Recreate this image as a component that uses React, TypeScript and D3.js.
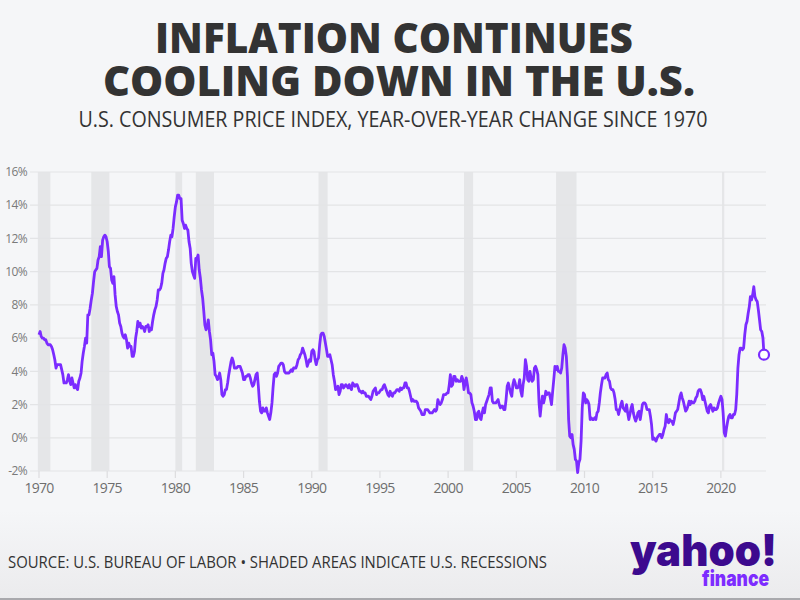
import { FC, useEffect, useRef } from "react";
import * as d3 from "d3";

// monthly CPI-U, % change vs same month a year earlier
const cpi1970s = [
  6.2, 6.4, 6.1, 6.0, 6.0, 5.9, 5.9, 5.7, 5.6, 5.6, 5.6, 5.5,
  5.3, 5.0, 4.7, 4.2, 4.4, 4.4, 4.4, 4.4, 4.1, 3.8, 3.3, 3.3,
  3.3, 3.5, 3.8, 3.4, 3.2, 3.6, 3.3, 3.0, 3.2, 3.0, 2.9, 3.4,
  3.6, 3.9, 4.6, 5.1, 5.5, 6.0, 5.7, 7.4, 7.4, 7.8, 8.3, 8.7,
  9.4, 10.0, 10.1, 10.2, 10.7, 10.9, 11.5, 10.9, 11.9, 12.1, 12.2, 12.1,
  11.8, 11.2, 10.3, 10.2, 9.5, 9.3, 9.7, 8.6, 7.9, 7.6, 7.4, 6.9,
  6.7, 6.3, 6.1, 6.0, 6.2, 5.9, 5.4, 5.7, 5.5, 5.5, 4.9, 4.9,
  5.2, 6.0, 6.4, 7.0, 6.7, 6.9, 6.6, 6.7, 6.6, 6.4, 6.7, 6.7,
  6.8, 6.4, 6.6, 6.5, 7.0, 7.4, 7.7, 7.9, 8.3, 8.9, 8.9, 9.0,
  9.3, 9.9, 10.1, 10.5, 10.8, 10.9, 11.3, 11.8, 12.2, 12.1, 12.6, 13.3,
];
const cpi1980s = [
  13.9, 14.2, 14.6, 14.6, 14.4, 14.4, 13.1, 12.9, 12.6, 12.8, 12.6, 12.5,
  11.8, 11.4, 10.5, 10.0, 9.8, 9.6, 10.8, 10.8, 11.0, 10.1, 9.6, 8.9,
  8.4, 7.6, 6.8, 6.5, 6.7, 7.1, 6.4, 5.9, 5.0, 5.1, 4.6, 3.8,
  3.7, 3.5, 3.6, 3.9, 3.5, 2.6, 2.5, 2.6, 2.9, 2.9, 3.3, 3.8,
  4.2, 4.6, 4.8, 4.6, 4.2, 4.2, 4.2, 4.3, 4.3, 4.3, 4.1, 3.9,
  3.5, 3.5, 3.7, 3.7, 3.8, 3.8, 3.6, 3.3, 3.1, 3.2, 3.5, 3.8,
  3.9, 3.1, 2.2, 1.6, 1.5, 1.8, 1.6, 1.6, 1.8, 1.5, 1.3, 1.1,
  1.5, 2.1, 3.0, 3.8, 3.9, 3.7, 3.9, 4.3, 4.4, 4.5, 4.5, 4.4,
  4.0, 3.9, 3.9, 3.9, 3.9, 4.0, 4.1, 4.0, 4.2, 4.2, 4.2, 4.4,
  4.7, 4.8, 5.0, 5.1, 5.4, 5.2, 5.0, 4.7, 4.3, 4.5, 4.7, 4.6,
];
const cpi1990s = [
  5.2, 5.3, 5.2, 4.7, 4.4, 4.7, 4.8, 5.6, 6.2, 6.3, 6.3, 6.1,
  5.7, 5.3, 4.9, 4.9, 5.0, 4.7, 4.4, 3.8, 3.4, 2.9, 3.0, 3.1,
  2.6, 2.8, 3.2, 3.2, 3.0, 3.1, 3.2, 3.1, 3.0, 3.2, 3.0, 2.9,
  3.3, 3.2, 3.1, 3.2, 3.2, 3.0, 2.8, 2.8, 2.7, 2.8, 2.7, 2.7,
  2.5, 2.5, 2.5, 2.4, 2.3, 2.5, 2.8, 2.9, 3.0, 2.6, 2.7, 2.7,
  2.8, 2.9, 2.9, 3.1, 3.2, 3.0, 2.8, 2.6, 2.5, 2.8, 2.6, 2.5,
  2.7, 2.7, 2.8, 2.9, 2.9, 2.8, 3.0, 2.9, 3.0, 3.0, 3.3, 3.3,
  3.0, 3.0, 2.8, 2.5, 2.2, 2.3, 2.2, 2.2, 2.2, 2.1, 1.8, 1.7,
  1.6, 1.4, 1.4, 1.4, 1.7, 1.7, 1.7, 1.6, 1.5, 1.5, 1.5, 1.6,
  1.7, 1.6, 1.7, 2.3, 2.1, 2.0, 2.1, 2.3, 2.6, 2.6, 2.6, 2.7,
];
const cpi2000s = [
  2.7, 3.2, 3.8, 3.1, 3.2, 3.7, 3.7, 3.4, 3.5, 3.4, 3.4, 3.4,
  3.7, 3.5, 2.9, 3.3, 3.6, 3.2, 2.7, 2.7, 2.6, 2.1, 1.9, 1.6,
  1.1, 1.1, 1.5, 1.6, 1.2, 1.1, 1.5, 1.8, 1.5, 2.0, 2.2, 2.4,
  2.6, 3.0, 3.0, 2.2, 2.1, 2.1, 2.1, 2.2, 2.3, 2.0, 1.8, 1.9,
  1.9, 1.7, 1.7, 2.3, 3.1, 3.3, 3.0, 2.7, 2.5, 3.2, 3.5, 3.3,
  3.0, 3.0, 3.1, 3.5, 2.8, 2.5, 3.2, 3.6, 4.7, 4.3, 3.5, 3.4,
  4.0, 3.6, 3.4, 3.5, 4.2, 4.3, 4.1, 3.8, 2.1, 1.3, 2.0, 2.5,
  2.1, 2.4, 2.8, 2.6, 2.7, 2.7, 2.4, 2.0, 2.8, 3.5, 4.3, 4.1,
  4.3, 4.0, 4.0, 3.9, 4.2, 5.0, 5.6, 5.4, 4.9, 3.7, 1.1, 0.1,
  0.0, 0.2, -0.4, -0.7, -1.3, -1.4, -2.1, -1.5, -1.3, -0.2, 1.8, 2.7,
];
const cpi2010s = [
  2.6, 2.1, 2.3, 2.2, 2.0, 1.1, 1.2, 1.1, 1.1, 1.2, 1.1, 1.5,
  1.6, 2.1, 2.7, 3.2, 3.6, 3.6, 3.6, 3.8, 3.9, 3.5, 3.4, 3.0,
  2.9, 2.9, 2.7, 2.3, 1.7, 1.7, 1.4, 1.7, 2.0, 2.2, 1.8, 1.7,
  1.6, 2.0, 1.5, 1.1, 1.4, 1.8, 2.0, 1.5, 1.2, 1.0, 1.2, 1.5,
  1.6, 1.1, 1.5, 2.0, 2.1, 2.1, 2.0, 1.7, 1.7, 1.7, 1.3, 0.8,
  -0.1, 0.0, -0.1, -0.2, 0.0, 0.1, 0.2, 0.2, 0.0, 0.2, 0.5, 0.7,
  1.4, 1.0, 0.9, 1.1, 1.0, 1.0, 0.8, 1.1, 1.5, 1.6, 1.7, 2.1,
  2.5, 2.7, 2.4, 2.2, 1.9, 1.6, 1.7, 1.9, 2.2, 2.0, 2.2, 2.1,
  2.1, 2.2, 2.4, 2.5, 2.8, 2.9, 2.9, 2.7, 2.3, 2.5, 2.2, 1.9,
  1.6, 1.5, 1.9, 2.0, 1.8, 1.6, 1.8, 1.7, 1.7, 1.8, 2.1, 2.3,
];
const cpi2020s = [
  2.5, 2.3, 1.5, 0.3, 0.1, 0.6, 1.0, 1.3, 1.4, 1.2, 1.2, 1.4,
  1.4, 1.7, 2.6, 4.2, 5.0, 5.4, 5.4, 5.3, 5.4, 6.2, 6.8, 7.0,
  7.5, 7.9, 8.5, 8.3, 8.6, 9.1, 8.5, 8.3, 8.2, 7.7, 7.1, 6.5,
  6.4, 6.0, 5.0,
];

// NBER recessions, [start, end] as "year-month"
const recessions = [
  ["1969-12", "1970-11"],
  ["1973-11", "1975-03"],
  ["1980-01", "1980-07"],
  ["1981-07", "1982-11"],
  ["1990-07", "1991-03"],
  ["2001-03", "2001-11"],
  ["2007-12", "2009-06"],
  ["2020-02", "2020-04"],
];

const yTicks = [-2, 0, 2, 4, 6, 8, 10, 12, 14, 16];
const xTickYears = [1970, 1975, 1980, 1985, 1990, 1995, 2000, 2005, 2010, 2015, 2020];

const titleLines = ["INFLATION CONTINUES", "COOLING DOWN IN THE U.S."];
const subtitle = "U.S. CONSUMER PRICE INDEX, YEAR-OVER-YEAR CHANGE SINCE 1970";
const sourceNote = "SOURCE: U.S. BUREAU OF LABOR \u2022 SHADED AREAS INDICATE U.S. RECESSIONS";

const App: FC = () => {
  const ref = useRef<SVGSVGElement>(null);
  const width = 800;
  const height = 600;
  const lineColor = "#7b2cff";
  const font = "'Open Sans', 'DejaVu Sans', sans-serif";

  const runChart = () => {
    const svg = d3.select(ref.current);
    svg.selectAll("*").remove();

    const values = [...cpi1970s, ...cpi1980s, ...cpi1990s, ...cpi2000s, ...cpi2010s, ...cpi2020s];
    const start = new Date(1970, 0, 1);
    const data = values.map((v, i) => ({ date: d3.timeMonth.offset(start, i), value: v }));
    const parseMonth = d3.timeParse("%Y-%m");

    const x = d3
      .scaleTime()
      .domain([start, data[data.length - 1].date])
      .range([39, 764]);
    const y = d3.scaleLinear().domain([-2, 16]).range([471, 172]);

    // background
    const defs = svg.append("defs");
    const grad = defs
      .append("linearGradient")
      .attr("id", "bg")
      .attr("x1", 0)
      .attr("y1", 0)
      .attr("x2", 0)
      .attr("y2", 1);
    grad.append("stop").attr("offset", "0.85").attr("stop-color", "#f5f6f8");
    grad.append("stop").attr("offset", "1").attr("stop-color", "#ebebed");
    svg.append("rect").attr("width", width).attr("height", height).attr("fill", "url(#bg)");
    svg
      .append("rect")
      .attr("y", height - 2)
      .attr("width", width)
      .attr("height", 2)
      .attr("fill", "#a9a9ad");

    // title + subtitle
    const title = svg
      .append("g")
      .attr("font-family", font)
      .attr("font-weight", 800)
      .attr("fill", "#333333")
      .attr("text-anchor", "middle");
    title
      .append("text")
      .attr("x", 394)
      .attr("y", 53)
      .attr("font-size", 42)
      .attr("textLength", 478)
      .attr("lengthAdjust", "spacingAndGlyphs")
      .text(titleLines[0]);
    title
      .append("text")
      .attr("x", 399)
      .attr("y", 96)
      .attr("font-size", 42)
      .attr("textLength", 592)
      .attr("lengthAdjust", "spacingAndGlyphs")
      .text(titleLines[1]);
    svg
      .append("text")
      .attr("x", 393)
      .attr("y", 127)
      .attr("text-anchor", "middle")
      .attr("font-family", font)
      .attr("font-size", 21)
      .attr("fill", "#333333")
      .attr("textLength", 629)
      .attr("lengthAdjust", "spacingAndGlyphs")
      .text(subtitle);

    // recession shading
    svg
      .append("g")
      .selectAll()
      .data(recessions)
      .join("rect")
      .attr("x", (d) => x(parseMonth(d[0])!))
      .attr("width", (d) => Math.max(2, x(parseMonth(d[1])!) - x(parseMonth(d[0])!)))
      .attr("y", y(16))
      .attr("height", y(-2) - y(16))
      .attr("fill", "#e5e6e8");

    // horizontal grid + y labels
    const grid = svg.append("g");
    grid
      .selectAll()
      .data(yTicks)
      .join("line")
      .attr("x1", 30)
      .attr("x2", 766)
      .attr("y1", (d) => y(d))
      .attr("y2", (d) => y(d))
      .attr("stroke", "#e3e4e6")
      .attr("stroke-width", 1.2);
    grid
      .selectAll()
      .data(yTicks)
      .join("text")
      .attr("x", 27)
      .attr("y", (d) => y(d))
      .attr("dy", "0.35em")
      .attr("text-anchor", "end")
      .attr("font-family", font)
      .attr("font-size", 12)
      .attr("letter-spacing", -0.6)
      .attr("fill", "#7a7a7a")
      .text((d) => `${d}%`);

    // x ticks
    const xg = svg.append("g");
    const tickDates = xTickYears.map((yr) => new Date(yr, 0, 1));
    xg
      .selectAll()
      .data(tickDates)
      .join("line")
      .attr("x1", (d) => x(d))
      .attr("x2", (d) => x(d))
      .attr("y1", 471)
      .attr("y2", 478)
      .attr("stroke", "#dddddf")
      .attr("stroke-width", 1.2);
    xg
      .selectAll()
      .data(tickDates)
      .join("text")
      .attr("x", (d) => x(d))
      .attr("y", 493)
      .attr("text-anchor", "middle")
      .attr("font-family", font)
      .attr("font-size", 14)
      .attr("letter-spacing", -0.7)
      .attr("fill", "#6e6e6e")
      .text((d) => d3.timeFormat("%Y")(d));

    // CPI line
    const line = d3
      .line<{ date: Date; value: number }>()
      .x((d) => x(d.date))
      .y((d) => y(d.value));
    svg
      .append("path")
      .datum(data)
      .attr("d", line)
      .attr("fill", "none")
      .attr("stroke", lineColor)
      .attr("stroke-width", 2.8)
      .attr("stroke-linejoin", "round");

    const last = data[data.length - 1];
    svg
      .append("circle")
      .attr("cx", x(last.date))
      .attr("cy", y(last.value))
      .attr("r", 5)
      .attr("fill", "#ffffff")
      .attr("stroke", lineColor)
      .attr("stroke-width", 2.2);

    // footer
    svg
      .append("text")
      .attr("x", 8)
      .attr("y", 568)
      .attr("font-family", font)
      .attr("font-size", 17)
      .attr("fill", "#333333")
      .attr("textLength", 539)
      .attr("lengthAdjust", "spacingAndGlyphs")
      .text(sourceNote);

    svg
      .append("text")
      .attr("x", 630)
      .attr("y", 566)
      .attr("font-family", "Inter, 'Open Sans', sans-serif")
      .attr("font-weight", 900)
      .attr("font-size", 44)
      .attr("fill", "#3c0a8e")
      .attr("textLength", 147)
      .attr("lengthAdjust", "spacingAndGlyphs")
      .text("yahoo!");
    svg
      .append("text")
      .attr("x", 702)
      .attr("y", 586)
      .attr("font-family", "Inter, 'Open Sans', sans-serif")
      .attr("font-weight", 900)
      .attr("font-size", 21)
      .attr("fill", "#7d2cff")
      .attr("textLength", 67)
      .attr("lengthAdjust", "spacingAndGlyphs")
      .text("finance");
  };

  useEffect(() => {
    runChart();
  }, []);

  return (
    <svg
      ref={ref}
      width={width}
      height={height}
      style={{ position: "fixed", left: 0, top: 0, display: "block" }}
    />
  );
};

export default App;
